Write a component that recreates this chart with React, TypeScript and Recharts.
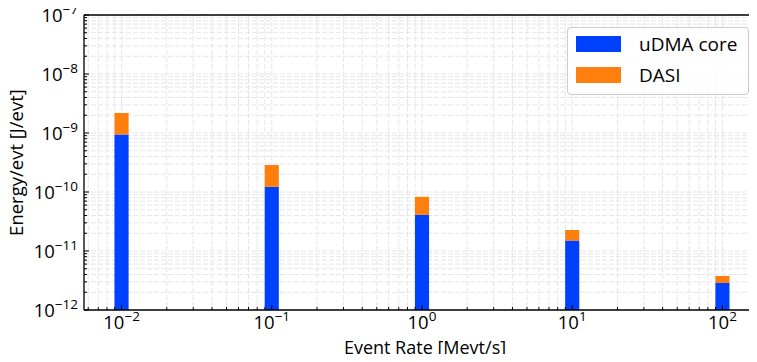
import React from "react";
import {
  ComposedChart,
  XAxis,
  YAxis,
  CartesianGrid,
  ReferenceArea,
  Label,
} from "recharts";

// energy per event vs event rate, stacked: uDMA core + DASI overhead
const eventRates = [0.01, 0.1, 1, 10, 100];
const udmaCore = [9.4e-10, 1.22e-10, 4.1e-11, 1.5e-11, 2.87e-12];
const dasiExtra = [1.24e-9, 1.65e-10, 4.2e-11, 7.7e-12, 0.9e-12];

const xMajor = [0.01, 0.1, 1, 10, 100];
const yMajor = [1e-12, 1e-11, 1e-10, 1e-9, 1e-8, 1e-7];
const minorSteps = [2, 3, 4, 5, 6, 7, 8, 9];

const X_DOMAIN: [number, number] = [Math.pow(10, -2.25), Math.pow(10, 2.25)];
const Y_DOMAIN: [number, number] = [1e-12, 1e-7];

const CORE_COLOR = "#0040ff";
const DASI_COLOR = "#ff7f0e";
const FONT = "'Open Sans', Lato, sans-serif";
// bar half-width, in decades
const HALF = Math.pow(10, 0.047);

const withMinor = (majors: number[], dom: [number, number]) => {
  const out: number[] = [];
  const first = majors[0] / 10;
  [first, ...majors].forEach((d) => {
    out.push(d);
    minorSteps.forEach((m) => out.push(Number((d * m).toPrecision(3))));
  });
  return out
    .filter((v) => v >= dom[0] * 0.999 && v <= dom[1] * 1.001)
    .sort((a, b) => a - b);
};

const xTicks = withMinor(xMajor, X_DOMAIN);
const yTicks = withMinor(yMajor, Y_DOMAIN);

const isMajor = (v: number) => {
  const l = Math.log10(v);
  return Math.abs(l - Math.round(l)) < 1e-6;
};
const expOf = (v: number) => {
  const e = Math.round(Math.log10(v));
  return e < 0 ? `\u2212${-e}` : `${e}`;
};

function XTick(props: any) {
  const { x, y, payload, top } = props;
  const v = payload.value;
  const major = isMajor(v);
  const len = major ? 5 : 3;
  const dir = top ? 1 : -1;
  return (
    <g>
      <line x1={x} x2={x} y1={y} y2={y + dir * len} stroke="#000" strokeWidth={1} />
      {!top && major && (
        <text x={x} y={y + 19} textAnchor="middle" fill="#000" style={{ fontFamily: FONT, fontSize: 18.5 }}>
          10
          <tspan dy={-8} style={{ fontSize: 13.5 }}>
            {expOf(v)}
          </tspan>
        </text>
      )}
    </g>
  );
}

function YTick(props: any) {
  const { x, y, payload, right } = props;
  const v = payload.value;
  const major = isMajor(v);
  const len = major ? 5 : 3;
  const dir = right ? -1 : 1;
  return (
    <g>
      <line x1={x} x2={x + dir * len} y1={y} y2={y} stroke="#000" strokeWidth={1} />
      {!right && major && (
        <text x={x - 6} y={y + 7} textAnchor="end" fill="#000" style={{ fontFamily: FONT, fontSize: 18.5 }}>
          10
          <tspan dy={-8} style={{ fontSize: 13.5 }}>
            {expOf(v)}
          </tspan>
        </text>
      )}
    </g>
  );
}

const legendItems = [
  { name: "uDMA core", color: CORE_COLOR },
  { name: "DASI", color: DASI_COLOR },
];

export default function App() {
  const data = eventRates.map((x) => ({ x }));
  const axisLine = { stroke: "#000", strokeWidth: 1.3 };
  return (
    <div style={{ position: "relative", margin: -8, width: 757, height: 362, overflow: "hidden", background: "#fff" }}>
      <ComposedChart width={761} height={362} data={data} margin={{ top: 0, right: 0, bottom: 0, left: 0 }}>
        <CartesianGrid stroke="#e6e6e6" strokeDasharray="5 2" />
        <XAxis
          dataKey="x"
          type="number"
          scale="log"
          domain={X_DOMAIN}
          allowDataOverflow
          ticks={xTicks}
          interval={0}
          tickSize={0}
          tickMargin={0}
          tickLine={false}
          axisLine={axisLine}
          height={52}
          tick={<XTick />}
        >
          <Label
            content={({ viewBox }: any) => (
              <text
                x={viewBox.x + viewBox.width / 2 + 3}
                y={viewBox.y + 44}
                textAnchor="middle"
                fill="#000"
                style={{ fontFamily: FONT, fontSize: 18 }}
              >
                Event Rate [Mevt/s]
              </text>
            )}
          />
        </XAxis>
        <XAxis
          xAxisId="top"
          orientation="top"
          type="number"
          scale="log"
          domain={X_DOMAIN}
          allowDataOverflow
          ticks={xTicks}
          interval={0}
          tickSize={0}
          tickMargin={0}
          tickLine={false}
          axisLine={axisLine}
          height={15}
          tick={<XTick top />}
        />
        <YAxis
          type="number"
          scale="log"
          domain={Y_DOMAIN}
          allowDataOverflow
          ticks={yTicks}
          interval={0}
          tickSize={0}
          tickMargin={0}
          tickLine={false}
          axisLine={axisLine}
          width={84}
          tick={<YTick />}
        >
          <Label
            content={({ viewBox }: any) => {
              const cx = 23;
              const cy = viewBox.y + viewBox.height / 2;
              return (
                <text
                  x={cx}
                  y={cy}
                  transform={`rotate(-90 ${cx} ${cy})`}
                  textAnchor="middle"
                  fill="#000"
                  style={{ fontFamily: FONT, fontSize: 18.5 }}
                >
                  Energy/evt [J/evt]
                </text>
              );
            }}
          />
        </YAxis>
        <YAxis
          yAxisId="right"
          orientation="right"
          type="number"
          scale="log"
          domain={Y_DOMAIN}
          allowDataOverflow
          ticks={yTicks}
          interval={0}
          tickSize={0}
          tickMargin={0}
          tickLine={false}
          axisLine={axisLine}
          width={1}
          tick={<YTick right />}
        />
        {eventRates.map((x, i) => (
          <ReferenceArea
            key={`core-${x}`}
            x1={x / HALF}
            x2={x * HALF}
            y1={Y_DOMAIN[0]}
            y2={udmaCore[i]}
            fill={CORE_COLOR}
            fillOpacity={1}
            stroke="none"
            ifOverflow="visible"
          />
        ))}
        {eventRates.map((x, i) => (
          <ReferenceArea
            key={`dasi-${x}`}
            x1={x / HALF}
            x2={x * HALF}
            y1={udmaCore[i]}
            y2={udmaCore[i] + dasiExtra[i]}
            fill={DASI_COLOR}
            fillOpacity={1}
            stroke="none"
            ifOverflow="visible"
          />
        ))}
      </ComposedChart>
      <div
        style={{
          position: "absolute",
          left: 567,
          top: 27,
          width: 180,
          height: 66,
          border: "1px solid #cccccc",
          borderRadius: 4,
          background: "rgba(255,255,255,0.85)",
          fontFamily: FONT,
          fontSize: 19,
        }}
      >
        {legendItems.map((it, i) => (
          <div key={it.name} style={{ position: "absolute", left: 8, top: 7 + i * 31, height: 18, display: "flex", alignItems: "center" }}>
            <div style={{ width: 45, height: 16, background: it.color }} />
            <span style={{ marginLeft: 18, lineHeight: "18px" }}>{it.name}</span>
          </div>
        ))}
      </div>
    </div>
  );
}
